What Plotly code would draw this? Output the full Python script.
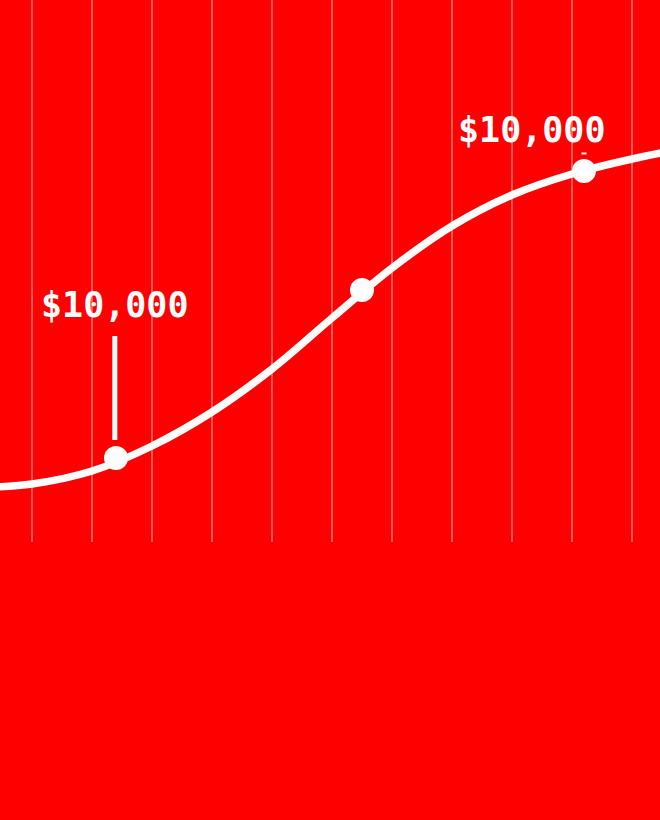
import plotly.graph_objects as go

# Curve (x in grid steps, y in arbitrary value units), read at each gridline
curve_x = [-1, 0, 1, 2, 3, 4, 5, 6, 7, 8, 9, 10, 11]
curve_y = [5.4, 5.8, 7.1, 9.6, 13.0, 17.3, 22.4, 27.4, 31.6, 34.7, 36.8, 38.3, 39.5]

# Highlighted points
point_x = [1.4, 5.5, 9.2]
point_y = [8.4, 25.2, 37.1]

# Labels
label_text = ["$10,000", "$10,000"]
label_x = [1.38, 8.34]
label_y = [23.7, 41.2]
connector_x = [1.38, 9.2]
connector_y0 = [10.2, 38.75]
connector_y1 = [20.6, 38.95]

RED = "#ff0000"

fig = go.Figure()
fig.add_trace(go.Scatter(
    x=curve_x, y=curve_y, mode="lines",
    line=dict(color="white", width=7.5, shape="spline", smoothing=1.0),
    hoverinfo="skip", showlegend=False,
))
fig.add_trace(go.Scatter(
    x=point_x, y=point_y, mode="markers",
    marker=dict(color="white", size=24, line=dict(width=0)),
    hoverinfo="skip", showlegend=False,
))

for i in range(len(connector_x)):
    fig.add_shape(type="line", xref="x", yref="y",
                  x0=connector_x[i], x1=connector_x[i],
                  y0=connector_y0[i], y1=connector_y1[i],
                  line=dict(color="white", width=5))

for t, lx, ly in zip(label_text, label_x, label_y):
    fig.add_annotation(x=lx, y=ly, xref="x", yref="y", text="<b>" + t + "</b>", showarrow=False,
                       font=dict(family="DejaVu Sans Mono", size=35, color="white"),
                       xanchor="center", yanchor="middle")

fig.update_layout(
    width=660, height=820,
    margin=dict(l=0, r=0, t=0, b=0),
    paper_bgcolor=RED, plot_bgcolor=RED,
    xaxis=dict(range=[-0.5333, 10.4667], tick0=0, dtick=1, showgrid=True,
               gridcolor="rgba(255,255,255,0.35)", gridwidth=2,
               showticklabels=False, zeroline=False, showline=False, ticks=""),
    yaxis=dict(range=[0, 54.2], domain=[278/820, 1], showgrid=False,
               showticklabels=False, zeroline=False, showline=False, ticks=""),
)

fig.write_html("out.html", config={"displayModeBar": False},
               post_script="document.body.style.margin='0';document.body.style.background='#ff0000';")
